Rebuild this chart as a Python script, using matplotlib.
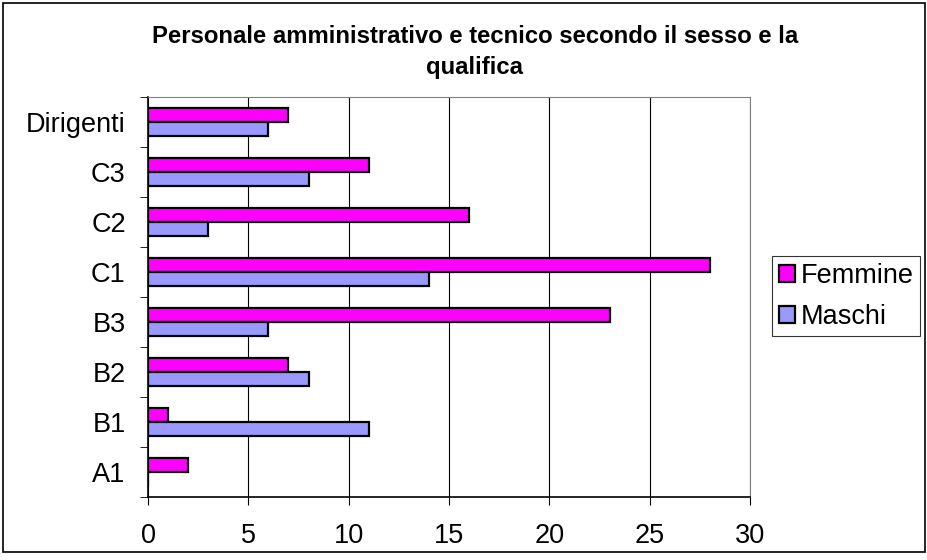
import matplotlib
matplotlib.use("Agg")
import matplotlib.pyplot as plt
import numpy as np
from matplotlib.patches import Rectangle

categories = ["A1", "B1", "B2", "B3", "C1", "C2", "C3", "Dirigenti"]
femmine = [2, 1, 7, 23, 28, 16, 11, 7]
maschi = [0, 11, 8, 6, 14, 3, 8, 6]
xticks = [0, 5, 10, 15, 20, 25, 30]
title = "Personale amministrativo e tecnico secondo il sesso e la\nqualifica"

plt.rcParams['font.family'] = ['Liberation Sans', 'DejaVu Sans']

W, H = 928, 560
fig = plt.figure(figsize=(W/100, H/100), dpi=100)
fig.patches.append(Rectangle((3/W, 1 - 552/H), 922/W, 549/H, transform=fig.transFigure,
                             fill=False, edgecolor='black', linewidth=1.2))

L, R, T, B = 148, 750, 97, 497
ax = fig.add_axes([L/W, 1 - B/H, (R-L)/W, (B-T)/H])

y = np.arange(len(categories))
bh = 0.28
ax.barh(y + bh/2, femmine, height=bh, color='#FF00FF', edgecolor='black', linewidth=1.6, label='Femmine')
ax.barh(y - bh/2, maschi, height=bh, color='#9999FF', edgecolor='black', linewidth=1.6, label='Maschi')

ax.set_xlim(0, 30)
ax.set_ylim(-0.5, len(categories) - 0.5)
ax.set_xticks(xticks)
ax.set_xticklabels([str(v) for v in xticks], fontsize=19.5)
ax.set_yticks(y)
ax.set_yticklabels(categories, fontsize=19.5)
ax.tick_params(axis='y', length=0, pad=16)
ax.set_yticks(np.arange(-0.5, len(categories), 1), minor=True)
ax.tick_params(axis='y', which='minor', length=6, direction='out', color='black')
ax.tick_params(axis='x', length=6, direction='out', pad=13)
ax.xaxis.grid(True, color='black', linewidth=0.8)
ax.set_axisbelow(True)
for s in ['top', 'right']:
    ax.spines[s].set_color('#808080')
for s in ['left', 'bottom']:
    ax.spines[s].set_color('black')
    ax.spines[s].set_linewidth(1.2)

fig.text(475/W, 1 - 52/H, title, ha='center', va='center',
         fontsize=17.2, fontweight='bold', linespacing=1.4)

handles, labels = ax.get_legend_handles_labels()
leg = fig.legend(handles, labels, loc='upper left', bbox_to_anchor=(772/W, 1 - 256/H),
                 fontsize=19.5, frameon=True, fancybox=False, edgecolor='black',
                 handlelength=0.6, handleheight=0.6, handletextpad=0.2,
                 borderpad=0.25, labelspacing=0.55, borderaxespad=0)
leg.get_frame().set_linewidth(0.8)

fig.savefig("out.png", dpi=100)
